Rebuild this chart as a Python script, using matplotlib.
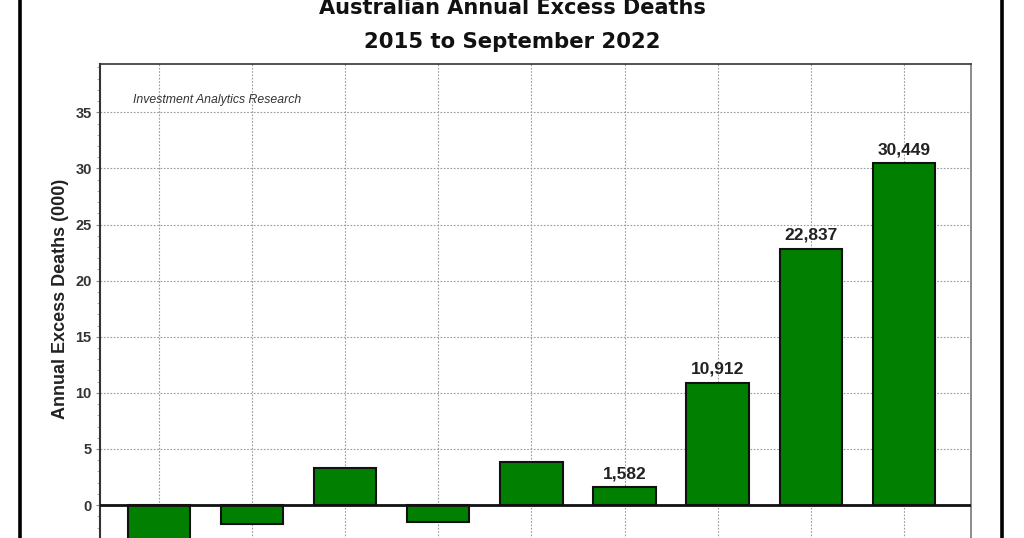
import matplotlib
matplotlib.use('Agg')
import matplotlib.pyplot as plt
from matplotlib.lines import Line2D
from matplotlib.ticker import MultipleLocator

years = ['2014', '2015', '2016', '2017', '2018', '2019', '2020', '2021', '2022']
excess = [-4.5, -1.7, 3.3, -1.5, 3.8, 1.582, 10.912, 22.837, 30.449]
labels = ['', '', '', '', '', '1,582', '10,912', '22,837', '30,449']
yticks = [0, 5, 10, 15, 20, 25, 30, 35]

plt.rcParams['font.family'] = ['Liberation Sans', 'DejaVu Sans']

fig = plt.figure(figsize=(10.24, 5.38), dpi=100)
# plot area runs past the bottom edge, as in the cropped original
ax = fig.add_axes([0.0977, -0.1474, 0.8506, 1.0284])

x = list(range(len(years)))
ax.bar(x, excess, width=0.67, color='#007f00', edgecolor='#111111',
       linewidth=1.5, zorder=3)

for xi, v, lab in zip(x, excess, labels):
    if lab:
        ax.text(xi, v + 0.55, lab, ha='center', va='bottom', fontsize=12.5,
                fontweight='bold', color='#222222', zorder=4)

ax.set_xlim(-0.63, 8.72)
ax.set_ylim(-10, 39.3)
ax.set_xticks(x)
ax.set_xticklabels(years)
# year labels sit below the cropped edge of the original picture
ax.tick_params(axis='x', labelbottom=False, length=0)
ax.set_yticks(yticks)
ax.yaxis.set_minor_locator(MultipleLocator(1))
ax.tick_params(axis='y', which='major', labelsize=10.5, length=3, width=0.8,
               colors='#888888', labelcolor='#333333', pad=3)
ax.tick_params(axis='y', which='minor', length=2, width=0.6, colors='#999999')
for t in ax.get_yticklabels():
    t.set_fontweight('bold')

ax.grid(True, which='major', linestyle=(0, (1.5, 1.5)), color='#9a9a9a',
        linewidth=0.8, zorder=0)
ax.axhline(0, color='#111111', linewidth=2.0, zorder=4)

ax.spines['left'].set_color('#333333')
ax.spines['left'].set_linewidth(1.5)
ax.spines['top'].set_color('#333333')
ax.spines['top'].set_linewidth(1.2)
ax.spines['right'].set_color('#777777')
ax.spines['right'].set_linewidth(1.2)

ax.set_ylabel('Annual Excess Deaths (000)', fontsize=13, fontweight='bold',
              color='#222222')
ax.yaxis.set_label_coords(-0.036, 0.575)

ax.text(0.038, 36.1, 'Investment Analytics Research', transform=ax.get_yaxis_transform(),
        fontsize=8.8, fontstyle='italic', color='#333333', va='center')

fig.text(0.5, 1 - 8 / 538, 'Australian Annual Excess Deaths', ha='center',
         va='center', fontsize=15, fontweight='bold', color='#111111',
         family=['DejaVu Sans'])
fig.text(0.5, 1 - 42 / 538, '2015 to September 2022', ha='center',
         va='center', fontsize=15.3, fontweight='bold', color='#111111',
         family=['DejaVu Sans'])

# outer frame of the original picture
for px in (20, 1002):
    fig.add_artist(Line2D([px / 1024, px / 1024], [0, 1],
                          transform=fig.transFigure, color='black',
                          linewidth=2.6))

fig.savefig('out.png', dpi=100)
